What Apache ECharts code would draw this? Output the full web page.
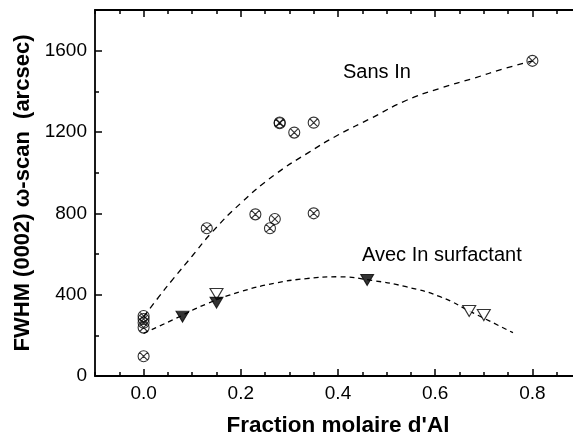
<!DOCTYPE html>
<html>
<head>
<meta charset="utf-8">
<script src="https://cdn.jsdelivr.net/npm/echarts@6/dist/echarts.min.js"></script>
<style>html,body{margin:0;padding:0;background:#fff;}#c{width:573px;height:439px;}</style>
</head>
<body>
<div id="c"></div>
<script>
// Data
var xTicks = [0.0, 0.2, 0.4, 0.6, 0.8];
var yTicks = [0, 400, 800, 1200, 1600];
var sansInPoints = [
  [0.8, 1550], [0.28, 1243], [0.28, 1247], [0.31, 1197], [0.35, 1246],
  [0.13, 727], [0.23, 795], [0.27, 772], [0.26, 727], [0.35, 800],
  [0, 295], [0, 280], [0, 262], [0, 238], [0, 97]
];
var avecFilled = [[0.08, 292], [0.15, 361], [0.46, 472]];
var avecOpen = [[0.15, 403], [0.67, 320], [0.70, 300]];
var sansInFit = [
  [0.0, 290], [0.03, 385], [0.06, 475], [0.1, 590], [0.14, 705], [0.2, 850],
  [0.27, 990], [0.34, 1100], [0.40, 1185], [0.47, 1270], [0.54, 1355],
  [0.61, 1415], [0.68, 1465], [0.74, 1510], [0.8, 1550]
];
var avecFit = [
  [0.0, 210], [0.06, 276], [0.13, 355], [0.2, 415], [0.27, 456], [0.335, 479],
  [0.40, 488], [0.47, 470], [0.54, 439], [0.61, 390], [0.68, 308], [0.76, 213]
];
var labelSans = 'Sans In';
var labelAvec = 'Avec In surfactant';
var xTitle = "Fraction molaire d'Al";
var yTitle = 'FWHM (0002) \u03c9-scan  (arcsec)';

var FONT = 'Liberation Sans, Arial, sans-serif';
var circleX = 'path://M0,5A5,5,0,1,1,10,5A5,5,0,1,1,0,5ZM1.46,1.46L8.54,8.54M8.54,1.46L1.46,8.54';

function isTick(list, v) {
  for (var i = 0; i < list.length; i++) { if (Math.abs(list[i] - v) < 1e-6) return true; }
  return false;
}

var chart = echarts.init(document.getElementById('c'));
function lineOn() { return {show: true, onZero: false, lineStyle: {color: '#000', width: 1.8}}; }
function xAxisDef(pos, major, showLabels) {
  var a = {
    type: 'value', min: -0.1, max: 0.9, position: pos,
    axisLine: major ? {show: false, onZero: false} : lineOn(),
    splitLine: {show: false},
    axisTick: {show: true, inside: true, length: major ? 7 : 4, lineStyle: {color: '#000', width: 1.5}},
    axisLabel: {show: false}
  };
  if (major) {
    a.interval = 0.2;
    a.axisTick.customValues = xTicks;
    a.axisLabel.customValues = xTicks;
  } else {
    a.interval = 0.05;
  }
  if (showLabels) {
    a.axisLabel = {show: true, fontFamily: FONT, fontSize: 19, color: '#000', margin: 8,
      formatter: function (v) { return isTick(xTicks, v) ? v.toFixed(1) : ''; }};
    a.name = xTitle; a.nameLocation = 'middle'; a.nameGap = 38;
    a.nameTextStyle = {fontFamily: FONT, fontSize: 22.5, fontWeight: 'bold', color: '#000'};
  }
  return a;
}
function yAxisDef(major, showLabels) {
  var a = {
    type: 'value', min: 0, max: 1800, position: 'left', interval: major ? 400 : 200,
    axisLine: major ? {show: false, onZero: false} : lineOn(),
    splitLine: {show: false},
    axisTick: {show: true, inside: true, length: major ? 7 : 4, lineStyle: {color: '#000', width: 1.5}},
    axisLabel: {show: false}
  };
  if (showLabels) {
    a.axisLabel = {show: true, fontFamily: FONT, fontSize: 19, color: '#000', margin: 8,
      formatter: function (v) { return isTick(yTicks, v) ? String(v) : ''; }};
    a.name = yTitle; a.nameLocation = 'middle'; a.nameGap = 53;
    a.nameTextStyle = {fontFamily: FONT, fontSize: 22, fontWeight: 'bold', color: '#000'};
  }
  return a;
}
chart.setOption({
  animation: false,
  backgroundColor: '#fff',
  grid: {left: 95, top: 10, width: 486, height: 366, outerBoundsMode: 'none'},
  xAxis: [
    xAxisDef('bottom', false, true),
    xAxisDef('bottom', true, false),
    xAxisDef('top', false, false),
    xAxisDef('top', true, false)
  ],
  yAxis: [
    yAxisDef(false, true),
    yAxisDef(true, false)
  ],
  series: [
    {type: 'line', data: sansInFit, smooth: true, symbol: 'none', z: 2,
      lineStyle: {color: '#000', width: 1.3, type: [6, 5]}},
    {type: 'line', data: avecFit, smooth: true, symbol: 'none', z: 2,
      lineStyle: {color: '#000', width: 1.3, type: [5, 4]}},
    {type: 'scatter', data: sansInPoints, symbol: circleX, symbolSize: 11, z: 3,
      itemStyle: {color: 'rgba(0,0,0,0)', borderColor: '#000', borderWidth: 1.1}},
    {type: 'scatter', data: avecOpen, symbol: 'triangle', symbolRotate: 180, symbolSize: [13, 11], z: 3,
      itemStyle: {color: '#fff', borderColor: '#000', borderWidth: 1.1}},
    {type: 'scatter', data: avecFilled, symbol: 'triangle', symbolRotate: 180, symbolSize: [13, 11], z: 4,
      itemStyle: {color: '#000', borderColor: '#000', borderWidth: 1}}
  ],
  graphic: [
    {type: 'text', left: 343, top: 62, style: {text: labelSans, font: '20px ' + FONT, fill: '#000'}},
    {type: 'text', left: 362, top: 245, style: {text: labelAvec, font: '20px ' + FONT, fill: '#000'}}
  ]
});
</script>
</body>
</html>
